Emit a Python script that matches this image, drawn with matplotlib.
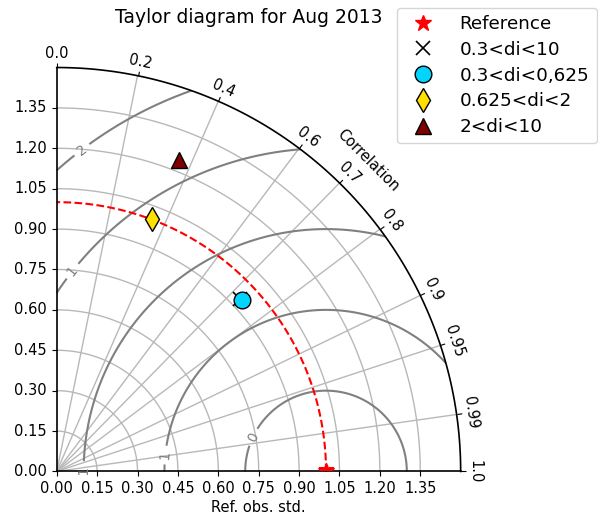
import numpy as np
import matplotlib
matplotlib.use("Agg")
import matplotlib.pyplot as plt
from matplotlib.projections import PolarAxes
import mpl_toolkits.axisartist.floating_axes as FA
import mpl_toolkits.axisartist.grid_finder as GF

# ---- data ----
title = "Taylor diagram for Aug 2013"
xlabel = "Ref. obs. std."
corr_label = "Correlation"
ref_std = 1.0
ref_label = "Reference"
corr_ticks = [0.0, 0.2, 0.4, 0.6, 0.7, 0.8, 0.9, 0.95, 0.99, 1.0]
std_ticks = [0.0, 0.15, 0.30, 0.45, 0.60, 0.75, 0.90, 1.05, 1.20, 1.35]
std_max = 1.5
rms_levels = [0.3, 0.6, 0.9, 1.2, 1.5]

sample_labels = ["0.3<di<10", "0.3<di<0,625", "0.625<di<2", "2<di<10"]
sample_std = [0.935, 0.938, 1.001, 1.242]
sample_corr = [0.727, 0.734, 0.355, 0.365]
sample_markers = ["x", "o", "d", "^"]
sample_colors = ["black", "#00d4ff", "#ffdf00", "#7f0000"]
sample_sizes = [10, 12, 12, 12]

# ---- figure ----
fig = plt.figure(figsize=(5.98, 5.22), dpi=100)

tr = PolarAxes.PolarTransform(apply_theta_transforms=False)
tlocs = np.arccos(corr_ticks)
gl1 = GF.FixedLocator(tlocs)
tf1 = GF.DictFormatter(dict(zip(tlocs, map(str, corr_ticks))))
gl2 = GF.FixedLocator(std_ticks)
tf2 = GF.DictFormatter({v: "%.2f" % v for v in std_ticks})

ghelper = FA.GridHelperCurveLinear(
    tr, extremes=(0, np.pi / 2, 0, std_max),
    grid_locator1=gl1, tick_formatter1=tf1,
    grid_locator2=gl2, tick_formatter2=tf2)

ax = FA.FloatingAxes(fig, [0.0881, 0.0891, 0.6890, 0.7893], grid_helper=ghelper)
fig.add_axes(ax)

ax.axis["top"].set_axis_direction("bottom")
ax.axis["top"].toggle(ticklabels=True, label=True)
ax.axis["top"].major_ticklabels.set_axis_direction("top")
ax.axis["top"].label.set_axis_direction("top")
ax.axis["top"].label.set_text(corr_label)

ax.axis["left"].set_axis_direction("bottom")
ax.axis["left"].label.set_text(xlabel)

ax.axis["right"].set_axis_direction("top")
ax.axis["right"].toggle(ticklabels=True)
ax.axis["right"].major_ticklabels.set_axis_direction("left")

ax.axis["bottom"].set_visible(False)

for name in ["top", "left", "right"]:
    ax.axis[name].major_ticklabels.set_fontsize(10.5)
    ax.axis[name].label.set_fontsize(10.5)
    ax.axis[name].major_ticks.set_tick_out(True)
    ax.axis[name].line.set_linewidth(1.2)

ax.grid(True, color="#b8b8b8", lw=1.0)

aux = ax.get_aux_axes(tr)

# RMS contours
rs, ts = np.meshgrid(np.linspace(0, std_max, 200), np.linspace(0, np.pi / 2, 200))
rms = np.sqrt(ref_std ** 2 + rs ** 2 - 2 * ref_std * rs * np.cos(ts))
cs = aux.contour(ts, rs, rms, rms_levels, colors="0.5", linewidths=1.5)
aux.clabel(cs, inline=1, fontsize=10, fmt="%.0f")

# Reference
l_ref, = aux.plot([0], [ref_std], "r*", ls="", ms=12, label=ref_label, zorder=5)
l_ref.set_clip_path(ax.patch)
t = np.linspace(0, np.pi / 2, 100)
aux.plot(t, np.full_like(t, ref_std), "r--", lw=1.5, label="_")

handles = [l_ref]
for s, c, m, col, ms, lab in zip(sample_std, sample_corr, sample_markers,
                                 sample_colors, sample_sizes, sample_labels):
    if m == "x":
        h, = aux.plot([np.arccos(c)], [s], ls="", marker=m, ms=ms, color=col,
                      mew=1.2, label=lab, zorder=6)
    else:
        h, = aux.plot([np.arccos(c)], [s], ls="", marker=m, ms=ms, mfc=col,
                      mec="black", mew=1.0, label=lab, zorder=6)
    handles.append(h)

fig.legend(handles, [h.get_label() for h in handles], numpoints=1,
           loc="upper right", bbox_to_anchor=(0.998, 0.985),
           borderaxespad=0, fontsize=13.2, labelspacing=0.42, handletextpad=1.0)

fig.text(0.416, 0.955, title, ha="center", va="baseline", fontsize=13.5)

fig.savefig("out.png", dpi=100)
